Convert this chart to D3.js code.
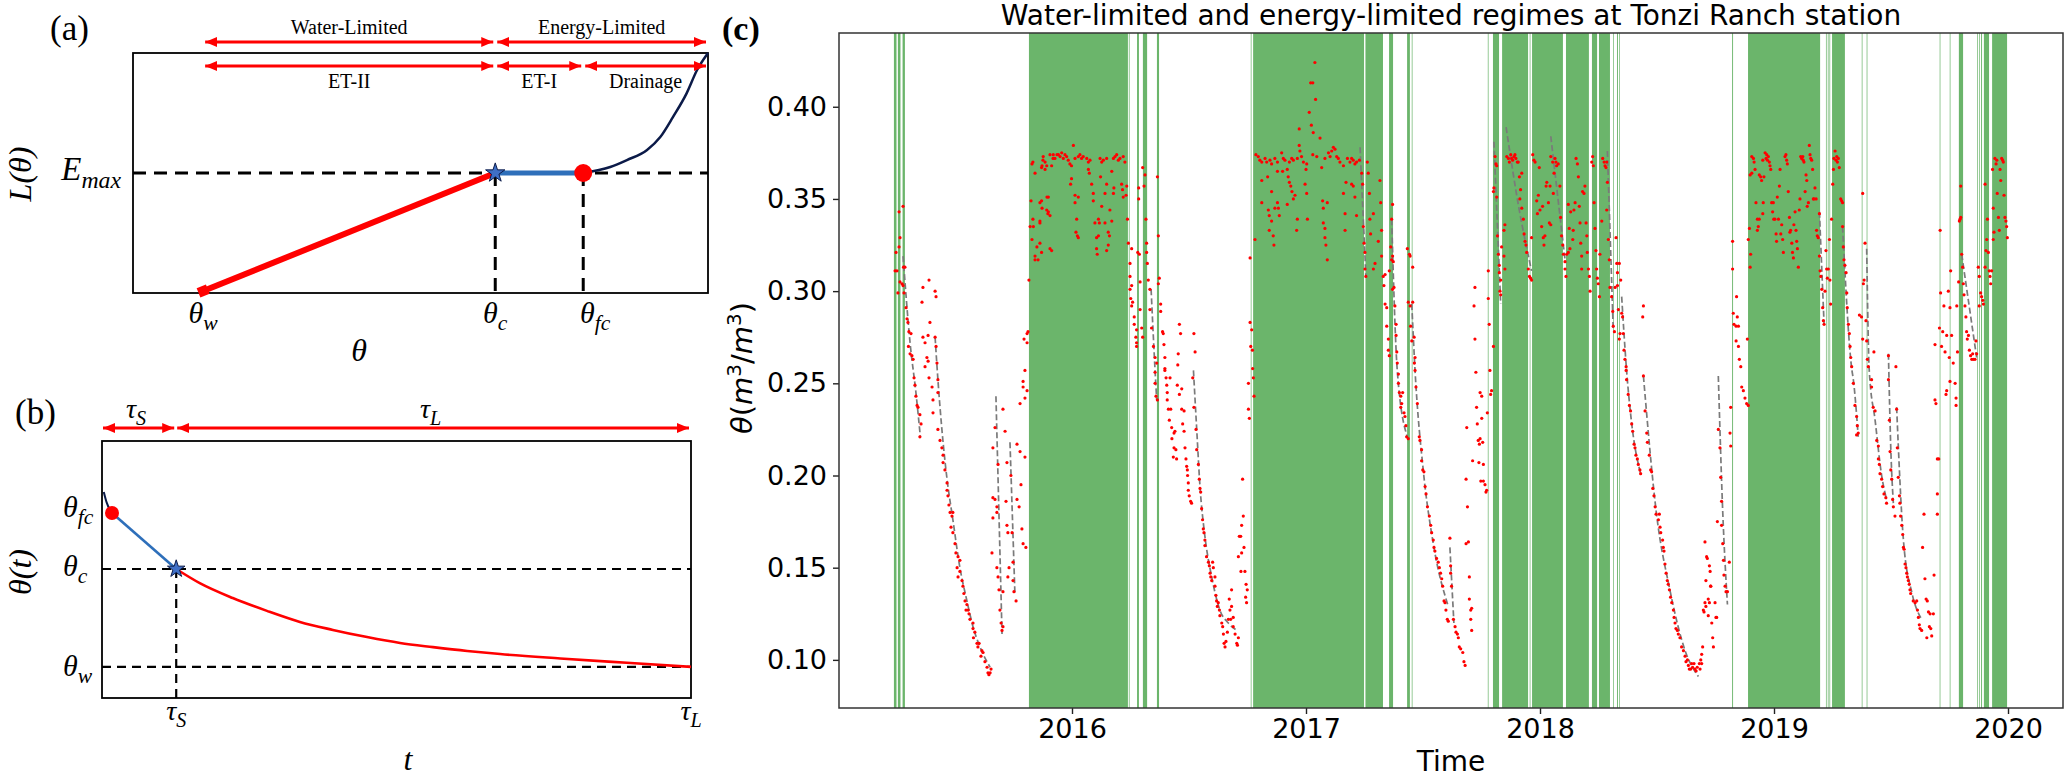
<!DOCTYPE html>
<html><head><meta charset="utf-8">
<script src="https://cdn.jsdelivr.net/npm/d3@7"></script>
<style>body{margin:0;background:#fff} svg{display:block}</style>
</head><body>
<svg id="fig" width="2067" height="780"></svg>
<script>
// ===================== DATA =====================
// Panel (c) axes
const yearTicks = [2016, 2017, 2018, 2019, 2020];
const thetaTicks = [0.10, 0.15, 0.20, 0.25, 0.30, 0.35, 0.40];

// Energy-limited days (decimal years, start-end)
const energyLimitedSpans = [
[2015.239,2015.250],[2015.256,2015.267],[2015.276,2015.286],
[2015.816,2016.239],[2016.243,2016.246],[2016.278,2016.286],[2016.303,2016.321],[2016.363,2016.372],
[2016.764,2016.767],[2016.774,2017.248],[2017.254,2017.329],[2017.355,2017.372],[2017.432,2017.444],[2017.452,2017.455],
[2017.777,2017.780],[2017.799,2017.825],[2017.838,2017.949],[2017.956,2017.959],[2017.966,2018.098],[2018.111,2018.209],
[2018.222,2018.244],[2018.252,2018.299],[2018.312,2018.315],[2018.329,2018.333],[2018.338,2018.341],
[2018.821,2018.825],[2018.889,2019.197],[2019.222,2019.225],[2019.230,2019.233],[2019.237,2019.240],[2019.248,2019.303],
[2019.375,2019.378],[2019.396,2019.399],[2019.708,2019.711],[2019.751,2019.754],[2019.790,2019.808],
[2019.868,2019.871],[2019.876,2019.879],[2019.885,2019.889],[2019.897,2019.919],[2019.932,2019.996]
];

// Observed soil moisture [decimal year, theta]
const obs2015 = [
[2015.244,0.311],[2015.252,0.311],[2015.248,0.321],[2015.261,0.324],[2015.265,0.329],[2015.261,0.343],[2015.278,0.346],[2015.256,0.299],[2015.265,0.305],[2015.274,0.304],[2015.278,0.303],[2015.280,0.313],[2015.286,0.313],[2015.282,0.299],[2015.291,0.291],[2015.295,0.285],[2015.299,0.283],[2015.303,0.278],[2015.312,0.277],[2015.301,0.270],[2015.308,0.266],[2015.316,0.265],[2015.321,0.263],[2015.325,0.253],[2015.333,0.243],[2015.329,0.249],[2015.338,0.238],[2015.342,0.237],[2015.350,0.233],[2015.355,0.228],[2015.350,0.221],
[2015.359,0.294],[2015.363,0.302],[2015.389,0.306],[2015.415,0.300],[2015.419,0.297],[2015.363,0.275],[2015.372,0.272],[2015.385,0.276],[2015.393,0.283],[2015.380,0.264],[2015.385,0.262],[2015.372,0.259],[2015.389,0.253],[2015.402,0.248],[2015.415,0.275],[2015.419,0.270],[2015.423,0.261],[2015.427,0.252],[2015.427,0.245],[2015.406,0.241],[2015.406,0.234],
[2015.427,0.225],[2015.436,0.219],[2015.444,0.215],[2015.449,0.211],[2015.449,0.207],[2015.457,0.203],[2015.466,0.196],[2015.466,0.192],[2015.470,0.189],[2015.474,0.184],[2015.479,0.180],[2015.487,0.178],[2015.491,0.180],[2015.483,0.172],[2015.491,0.169],[2015.500,0.163],[2015.504,0.158],[2015.513,0.156],[2015.521,0.154],[2015.509,0.150],[2015.521,0.148],[2015.513,0.145],[2015.530,0.143],[2015.534,0.140],[2015.538,0.136],[2015.543,0.132],[2015.551,0.130],[2015.547,0.127],[2015.556,0.127],[2015.560,0.125],[2015.564,0.122],[2015.577,0.120],[2015.577,0.117],[2015.585,0.115],[2015.579,0.112],[2015.594,0.109],[2015.598,0.107],[2015.603,0.109],[2015.615,0.105],[2015.620,0.104],[2015.611,0.102],[2015.628,0.099],[2015.637,0.096],[2015.641,0.093],[2015.650,0.093],[2015.654,0.095],[2015.645,0.092]
];
const obs2015Late = [
[2015.658,0.158],[2015.662,0.215],[2015.671,0.226],[2015.662,0.188],[2015.671,0.187],[2015.679,0.183],[2015.662,0.177],[2015.679,0.180],[2015.684,0.206],[2015.679,0.150],[2015.688,0.138],[2015.692,0.127],[2015.697,0.120],[2015.705,0.118],[2015.701,0.116],[2015.705,0.137],[2015.684,0.145],
[2015.705,0.236],[2015.714,0.224],[2015.722,0.207],[2015.718,0.186],[2015.722,0.173],[2015.726,0.169],[2015.731,0.150],[2015.726,0.145],[2015.739,0.200],[2015.744,0.169],[2015.748,0.153],[2015.748,0.143],[2015.752,0.137],[2015.761,0.132],[2015.765,0.217],[2015.765,0.187],[2015.774,0.183],[2015.778,0.213],[2015.782,0.195],[2015.786,0.171],[2015.791,0.163],[2015.803,0.161],[2015.799,0.210],[2015.778,0.239],[2015.791,0.251],[2015.791,0.248],[2015.799,0.257],[2015.795,0.274],[2015.808,0.272],[2015.812,0.278],[2015.808,0.277],[2015.816,0.306],[2015.799,0.242],[2015.808,0.246]
];
const obsWet2016 = [
[2015.829,0.369],[2015.833,0.370],[2015.842,0.364],[2015.872,0.368],[2015.876,0.371],[2015.885,0.366],[2015.906,0.374],[2015.919,0.372],[2015.936,0.374],[2015.825,0.349],[2015.833,0.339],[2015.835,0.335],[2015.829,0.328],[2015.842,0.319],[2015.850,0.324],[2015.863,0.348],[2015.872,0.345],[2015.893,0.351],[2015.897,0.342],[2015.906,0.323],[2015.855,0.317],[2015.821,0.335],[2015.863,0.338],[2015.842,0.317],
[2015.877,0.373],[2015.885,0.370],[2015.892,0.368],[2015.920,0.374],[2015.927,0.372],[2015.942,0.374],[2015.949,0.373],[2015.956,0.375],[2015.963,0.372],[2015.970,0.374],[2015.977,0.373],[2015.984,0.371],[2015.991,0.369],[2015.998,0.368],[2016.006,0.379],[2016.013,0.372],[2016.027,0.373],[2016.034,0.374],[2016.041,0.372],[2016.048,0.373],[2016.063,0.372],[2016.070,0.370],[2016.077,0.371],[2016.120,0.372],[2016.127,0.370],[2016.134,0.371],[2016.148,0.372],[2016.177,0.372],[2016.184,0.373],[2016.191,0.374],[2016.198,0.371],[2016.205,0.372],[2016.219,0.373],[2016.226,0.370],
[2015.870,0.367],[2015.913,0.368],[2015.998,0.361],[2015.994,0.358],[2015.899,0.351],[2015.870,0.349],[2015.892,0.344],[2015.899,0.343],[2015.906,0.341],[2015.863,0.337],[2016.013,0.352],[2016.013,0.348],[2016.027,0.351],[2016.020,0.339],[2016.017,0.332],[2016.023,0.330],[2016.027,0.329],[2015.913,0.322],[2015.863,0.326],[2015.870,0.321],[2016.070,0.366],[2016.074,0.364],[2016.084,0.358],[2016.091,0.353],[2016.091,0.349],[2016.098,0.337],[2016.113,0.339],[2016.117,0.337],[2016.105,0.329],[2016.113,0.330],[2016.105,0.323],[2016.108,0.320],[2016.122,0.362],[2016.127,0.346],[2016.141,0.337],[2016.141,0.353],[2016.148,0.358],[2016.155,0.332],[2016.160,0.330],[2016.155,0.325],[2016.148,0.322],[2016.162,0.344],[2016.170,0.365],[2016.170,0.338],[2016.177,0.353],[2016.179,0.356],[2016.212,0.358],[2016.216,0.355],[2016.219,0.351],[2016.231,0.352],[2016.234,0.357],[2016.237,0.339]
];
const obsDry2016 = [
[2016.241,0.326],[2016.255,0.323],[2016.248,0.315],[2016.248,0.308],[2016.255,0.303],[2016.248,0.301],[2016.251,0.296],[2016.259,0.294],[2016.255,0.292],[2016.266,0.286],[2016.266,0.282],[2016.276,0.279],[2016.273,0.275],[2016.276,0.272],[2016.276,0.270],[2016.281,0.321],[2016.288,0.320],[2016.291,0.305],[2016.302,0.367],[2016.312,0.363],[2016.308,0.357],[2016.285,0.356],[2016.285,0.350],[2016.316,0.339],[2016.319,0.326],[2016.319,0.321],[2016.322,0.315],[2016.326,0.306],[2016.298,0.280],[2016.302,0.275],[2016.291,0.290],[2016.333,0.290],[2016.333,0.301],[2016.340,0.280],[2016.348,0.270],[2016.355,0.264],[2016.362,0.261],[2016.365,0.362],[2016.369,0.330],[2016.369,0.304],[2016.373,0.307],[2016.379,0.293],[2016.379,0.289],[2016.387,0.278],[2016.390,0.277],[2016.393,0.271],[2016.397,0.264],[2016.397,0.258],[2016.459,0.282],[2016.464,0.277],[2016.521,0.277],[2016.526,0.267],[2016.454,0.266],[2016.452,0.260],
[2016.355,0.256],[2016.355,0.250],[2016.359,0.243],[2016.365,0.241],[2016.397,0.257],[2016.402,0.253],[2016.419,0.253],[2016.405,0.249],[2016.407,0.245],[2016.407,0.241],[2016.412,0.236],[2016.422,0.236],[2016.416,0.230],[2016.426,0.226],[2016.440,0.224],[2016.436,0.223],[2016.427,0.220],[2016.436,0.215],[2016.444,0.214],[2016.433,0.210],[2016.447,0.209],[2016.450,0.249],[2016.459,0.244],[2016.469,0.247],[2016.469,0.236],[2016.479,0.235],[2016.473,0.228],[2016.479,0.224],[2016.483,0.215],[2016.487,0.209],[2016.490,0.205],[2016.493,0.203],[2016.494,0.200],[2016.497,0.196],[2016.497,0.192],[2016.501,0.189],[2016.507,0.186],[2016.511,0.185],
[2016.516,0.253],[2016.521,0.237],[2016.530,0.225],[2016.533,0.214],[2016.540,0.206],[2016.544,0.198],[2016.547,0.193],[2016.550,0.191],[2016.554,0.182],[2016.558,0.176],[2016.561,0.171],[2016.564,0.169],[2016.568,0.165],[2016.568,0.162],[2016.575,0.156],[2016.583,0.153],[2016.587,0.151],[2016.601,0.153],[2016.604,0.150],[2016.590,0.147],[2016.593,0.145],[2016.597,0.143],[2016.611,0.145],[2016.611,0.140],[2016.615,0.135],[2016.618,0.132],[2016.625,0.131],[2016.621,0.129],[2016.630,0.127],[2016.632,0.124],[2016.640,0.120],[2016.644,0.118],[2016.647,0.114],[2016.650,0.109],[2016.654,0.107],[2016.658,0.110],[2016.664,0.115],[2016.672,0.133],[2016.675,0.127],[2016.682,0.129],[2016.668,0.122],[2016.678,0.122],[2016.689,0.123],[2016.682,0.138],[2016.689,0.118],[2016.697,0.114],[2016.704,0.109],[2016.711,0.112],[2016.707,0.108],
[2016.711,0.156],[2016.715,0.167],[2016.721,0.167],[2016.725,0.158],[2016.725,0.173],[2016.732,0.178],[2016.735,0.161],[2016.722,0.148],[2016.739,0.148],[2016.744,0.141],[2016.749,0.138],[2016.742,0.134],[2016.746,0.131],[2016.729,0.198],[2016.754,0.250],[2016.754,0.236],[2016.758,0.231],[2016.775,0.253],[2016.778,0.243],[2016.761,0.318],[2016.761,0.283],[2016.768,0.279],[2016.764,0.270],[2016.771,0.268],[2016.772,0.258],[2016.782,0.328]
];
const obsWet2017 = [
[2016.786,0.374],[2016.796,0.373],[2016.803,0.371],[2016.811,0.370],[2016.825,0.372],[2016.832,0.370],[2016.846,0.371],[2016.853,0.369],[2016.867,0.372],[2016.878,0.370],[2016.896,0.375],[2016.903,0.372],[2016.910,0.371],[2016.929,0.370],[2016.939,0.372],[2016.946,0.371],[2016.963,0.372],[2016.971,0.379],[2016.974,0.376],[2016.981,0.373],[2016.989,0.370],[2017.003,0.369],[2017.014,0.397],[2017.020,0.413],[2017.029,0.413],[2017.038,0.424],[2017.041,0.404],[2017.023,0.390],[2017.031,0.386],[2016.971,0.388],[2017.029,0.374],[2017.046,0.373],[2017.060,0.383],[2017.081,0.372],[2017.096,0.375],[2017.103,0.373],[2017.110,0.376],[2017.117,0.378],[2017.124,0.377],[2017.131,0.373],[2017.138,0.372],[2017.145,0.370],[2017.160,0.368],[2017.177,0.372],[2017.188,0.370],[2017.195,0.372],[2017.202,0.371],[2017.209,0.369],[2017.216,0.370],[2017.228,0.371],
[2016.811,0.360],[2016.836,0.362],[2016.811,0.348],[2016.853,0.354],[2016.839,0.344],[2016.843,0.341],[2016.853,0.338],[2016.843,0.333],[2016.860,0.330],[2016.863,0.325],[2016.867,0.345],[2016.878,0.348],[2016.882,0.345],[2016.886,0.341],[2016.878,0.365],[2016.900,0.365],[2016.920,0.366],[2016.924,0.362],[2016.929,0.359],[2016.935,0.357],[2016.940,0.354],[2016.946,0.350],[2016.953,0.352],[2016.920,0.347],[2016.963,0.339],[2016.960,0.333],[2016.996,0.358],[2017.003,0.353],[2017.000,0.366],[2017.006,0.339],[2017.067,0.367],[2017.071,0.349],[2017.074,0.345],[2017.074,0.337],[2017.081,0.334],[2017.081,0.329],[2017.085,0.325],[2017.091,0.317],[2017.091,0.348],[2017.160,0.353],[2017.167,0.342],[2017.171,0.359],[2017.195,0.358],[2017.202,0.357],[2017.209,0.351],[2017.167,0.333],[2017.216,0.341],[2017.238,0.364],[2017.242,0.358],[2017.245,0.335],[2017.248,0.326],[2017.252,0.321],[2017.252,0.312],[2017.256,0.308],[2017.262,0.370],[2017.266,0.364],[2017.271,0.353],[2017.273,0.339],[2017.276,0.331],[2017.288,0.342],[2017.295,0.315],[2017.288,0.312],[2017.309,0.327]
];
const obsDry2017 = [
[2017.316,0.360],[2017.319,0.348],[2017.323,0.333],[2017.323,0.319],[2017.330,0.308],[2017.338,0.309],[2017.333,0.303],[2017.338,0.293],[2017.345,0.291],[2017.345,0.281],[2017.352,0.274],[2017.352,0.268],[2017.356,0.265],[2017.356,0.311],[2017.362,0.324],[2017.366,0.339],[2017.370,0.347],[2017.366,0.317],[2017.370,0.319],[2017.373,0.316],[2017.370,0.301],[2017.376,0.302],[2017.380,0.292],[2017.385,0.282],[2017.385,0.276],[2017.388,0.267],[2017.390,0.261],[2017.433,0.323],[2017.442,0.320],[2017.445,0.319],[2017.437,0.294],[2017.445,0.292],[2017.456,0.313],[2017.456,0.294],[2017.447,0.281],[2017.452,0.273],[2017.462,0.275],[2017.466,0.264],[2017.463,0.261],
[2017.395,0.255],[2017.395,0.250],[2017.399,0.245],[2017.405,0.243],[2017.413,0.245],[2017.409,0.239],[2017.405,0.237],[2017.419,0.234],[2017.423,0.232],[2017.427,0.227],[2017.430,0.221],[2017.437,0.220],
[2017.466,0.257],[2017.470,0.248],[2017.476,0.239],[2017.484,0.221],[2017.487,0.219],[2017.494,0.214],[2017.494,0.208],[2017.499,0.203],[2017.504,0.202],[2017.509,0.194],[2017.513,0.190],[2017.519,0.183],[2017.527,0.178],[2017.533,0.173],[2017.537,0.169],[2017.544,0.165],[2017.547,0.161],[2017.551,0.159],[2017.558,0.155],[2017.565,0.153],[2017.570,0.150],[2017.575,0.147],[2017.580,0.144],[2017.584,0.140],[2017.590,0.132],[2017.594,0.131],[2017.598,0.127],[2017.604,0.122],[2017.608,0.121],[2017.615,0.166],[2017.618,0.151],[2017.618,0.147],[2017.622,0.140],[2017.630,0.122],[2017.637,0.118],[2017.641,0.115],[2017.647,0.114],[2017.651,0.112],[2017.655,0.107],[2017.661,0.106],[2017.670,0.104],[2017.675,0.099],[2017.680,0.097],
[2017.684,0.163],[2017.690,0.183],[2017.684,0.198],[2017.687,0.226],[2017.694,0.164],[2017.698,0.145],[2017.698,0.133],[2017.704,0.127],[2017.708,0.128],[2017.704,0.122],[2017.708,0.116],[2017.712,0.208],[2017.726,0.256],[2017.729,0.237],[2017.732,0.228],[2017.736,0.219],[2017.744,0.220],[2017.741,0.217],[2017.755,0.218],[2017.751,0.231],[2017.739,0.207],[2017.758,0.206],[2017.744,0.245],[2017.751,0.243],[2017.747,0.197],[2017.758,0.197],[2017.765,0.195],[2017.769,0.191],[2017.772,0.192],[2017.775,0.234],[2017.786,0.257],[2017.793,0.246],[2017.789,0.244],
[2017.722,0.302],[2017.718,0.292],[2017.722,0.274],[2017.779,0.311],[2017.779,0.296],[2017.783,0.282],[2017.801,0.270]
];
const obsWet2018 = [
[2017.808,0.373],[2017.812,0.369],[2017.815,0.368],[2017.803,0.356],[2017.801,0.354],[2017.815,0.351],[2017.818,0.330],[2017.822,0.320],[2017.826,0.314],[2017.826,0.310],[2017.832,0.306],[2017.829,0.300],[2017.832,0.298],[2017.836,0.324],[2017.846,0.333],[2017.850,0.336],[2017.846,0.319],[2017.850,0.312],[2017.858,0.373],[2017.865,0.372],[2017.869,0.370],[2017.875,0.374],[2017.879,0.372],[2017.883,0.371],[2017.889,0.373],[2017.893,0.374],[2017.897,0.372],[2017.903,0.370],[2017.907,0.370],[2017.912,0.362],[2017.917,0.355],[2017.922,0.364],[2017.914,0.350],[2017.922,0.345],[2017.929,0.339],[2017.932,0.331],[2017.936,0.327],[2017.940,0.325],[2017.943,0.321],[2017.950,0.312],[2017.955,0.308],[2017.960,0.307],[2017.964,0.306],[2017.964,0.329],[2017.969,0.374],[2017.974,0.371],[2017.979,0.370],[2017.986,0.349],[2017.989,0.342],[2017.993,0.352],[2017.997,0.367],[2018.000,0.344],[2018.007,0.335],[2018.011,0.346],[2018.014,0.329],[2018.017,0.325],[2018.021,0.330],[2018.026,0.357],[2018.029,0.359],[2018.036,0.348],[2018.040,0.337],[2018.046,0.336],[2018.043,0.357],[2018.046,0.373],[2018.054,0.370],[2018.057,0.353],[2018.060,0.364],[2018.064,0.372],[2018.068,0.370],[2018.071,0.368],[2018.078,0.369],[2018.085,0.357],[2018.088,0.340],[2018.092,0.330],[2018.097,0.325],[2018.100,0.320],[2018.107,0.316],[2018.107,0.312],[2018.111,0.308],[2018.114,0.320],[2018.121,0.321],[2018.128,0.323],[2018.121,0.347],[2018.131,0.343],[2018.125,0.334],[2018.140,0.328],[2018.142,0.333],[2018.145,0.344],[2018.150,0.348],[2018.154,0.372],[2018.160,0.369],[2018.164,0.362],[2018.168,0.346],[2018.171,0.337],[2018.174,0.326],[2018.178,0.319],[2018.178,0.312],[2018.182,0.354],[2018.188,0.353],[2018.192,0.357],[2018.197,0.337],[2018.200,0.330],[2018.202,0.321],[2018.207,0.312],[2018.211,0.308],[2018.214,0.300],[2018.221,0.370],[2018.225,0.373],[2018.228,0.368],[2018.231,0.348],[2018.235,0.334],[2018.239,0.322],[2018.242,0.312],[2018.245,0.307],[2018.249,0.304],[2018.254,0.297],[2018.256,0.320],[2018.264,0.338],[2018.268,0.372],[2018.274,0.370],[2018.278,0.368],[2018.282,0.367],[2018.285,0.370],[2018.288,0.359],[2018.285,0.344],[2018.292,0.328],[2018.296,0.317],[2018.299,0.302],[2018.306,0.297],[2018.311,0.289],[2018.313,0.281],[2018.318,0.278]
];
const obsDry2018 = [
[2018.325,0.329],[2018.328,0.315],[2018.331,0.310],[2018.339,0.315],[2018.345,0.306],[2018.335,0.290],[2018.342,0.277],[2018.339,0.274],[2018.349,0.288],[2018.353,0.286],[2018.356,0.277],[2018.359,0.268],[2018.363,0.263],[2018.368,0.259],[2018.321,0.302],[2018.331,0.303],[2018.442,0.292],[2018.439,0.286],
[2018.368,0.257],[2018.370,0.252],[2018.377,0.244],[2018.382,0.238],[2018.387,0.235],[2018.392,0.228],[2018.396,0.224],[2018.402,0.217],[2018.406,0.215],[2018.410,0.211],[2018.416,0.209],[2018.420,0.206],[2018.427,0.203],[2018.430,0.201],
[2018.442,0.254],[2018.449,0.235],[2018.456,0.223],[2018.459,0.218],[2018.467,0.211],[2018.473,0.203],[2018.477,0.202],[2018.482,0.193],[2018.487,0.189],[2018.492,0.183],[2018.496,0.179],[2018.510,0.179],[2018.506,0.176],[2018.513,0.172],[2018.516,0.169],[2018.524,0.165],[2018.527,0.161],[2018.530,0.159],[2018.534,0.152],[2018.539,0.147],[2018.544,0.143],[2018.548,0.141],[2018.553,0.138],[2018.558,0.134],[2018.563,0.131],[2018.570,0.127],[2018.573,0.123],[2018.577,0.120],[2018.581,0.117],[2018.587,0.116],[2018.591,0.114],[2018.598,0.112],[2018.605,0.107],[2018.613,0.105],[2018.620,0.102],[2018.624,0.099],[2018.630,0.100],[2018.634,0.097],[2018.638,0.095],[2018.644,0.095],[2018.648,0.098],[2018.652,0.096],[2018.658,0.098],[2018.662,0.095],[2018.667,0.094],[2018.672,0.096],[2018.681,0.098],[2018.687,0.100],[2018.691,0.103],[2018.695,0.107],
[2018.698,0.127],[2018.705,0.131],[2018.709,0.129],[2018.701,0.126],[2018.719,0.124],[2018.724,0.131],[2018.734,0.120],[2018.738,0.112],[2018.741,0.107],[2018.748,0.131],[2018.755,0.123],[2018.705,0.164],[2018.712,0.156],[2018.709,0.143],[2018.719,0.133],[2018.724,0.151],[2018.727,0.148],[2018.730,0.140],[2018.758,0.175],
[2018.762,0.225],[2018.769,0.215],[2018.772,0.199],[2018.776,0.186],[2018.776,0.173],[2018.781,0.163],[2018.784,0.154],[2018.786,0.146],[2018.791,0.140],[2018.795,0.137],[2018.801,0.137],[2018.809,0.153],[2018.815,0.237],[2018.812,0.223],[2018.815,0.216],[2018.715,0.155],[2018.729,0.140],[2018.752,0.123],[2018.684,0.095],[2018.691,0.098],
[2018.862,0.248],[2018.869,0.246],[2018.876,0.242],[2018.883,0.239],[2018.890,0.238],
[2018.823,0.327],[2018.823,0.312],[2018.826,0.288],[2018.829,0.282],[2018.838,0.281],[2018.848,0.281],[2018.840,0.297],[2018.843,0.286],[2018.838,0.273],[2018.848,0.270],[2018.852,0.263],[2018.858,0.259],[2018.886,0.274]
];
const obsWet2019 = [
[2018.890,0.328],[2018.895,0.334],[2018.898,0.313],[2018.900,0.320],[2018.898,0.363],[2018.905,0.373],[2018.912,0.372],[2018.915,0.370],[2018.919,0.366],[2018.905,0.364],[2018.923,0.348],[2018.929,0.339],[2018.933,0.335],[2018.929,0.333],[2018.937,0.339],[2018.937,0.363],[2018.943,0.362],[2018.947,0.360],[2018.952,0.342],[2018.954,0.348],[2018.952,0.371],[2018.957,0.362],[2018.962,0.375],[2018.966,0.372],[2018.969,0.374],[2018.972,0.371],[2018.976,0.373],[2018.980,0.370],[2018.983,0.368],[2018.986,0.366],[2018.990,0.348],[2018.994,0.343],[2018.997,0.348],[2018.999,0.339],[2019.004,0.339],[2019.009,0.331],[2019.011,0.327],[2019.014,0.351],[2019.019,0.339],[2019.023,0.357],[2019.026,0.366],[2019.029,0.331],[2019.033,0.336],[2019.037,0.328],[2019.040,0.321],[2019.047,0.373],[2019.051,0.374],[2019.054,0.371],[2019.057,0.369],[2019.061,0.354],[2019.066,0.340],[2019.068,0.332],[2019.071,0.333],[2019.076,0.326],[2019.079,0.321],[2019.083,0.318],[2019.085,0.336],[2019.090,0.343],[2019.094,0.333],[2019.097,0.327],[2019.100,0.323],[2019.104,0.313],[2019.108,0.344],[2019.111,0.350],[2019.114,0.373],[2019.118,0.372],[2019.123,0.373],[2019.125,0.371],[2019.128,0.370],[2019.133,0.354],[2019.137,0.363],[2019.140,0.360],[2019.142,0.346],[2019.147,0.348],[2019.151,0.379],[2019.154,0.374],[2019.157,0.372],[2019.161,0.371],[2019.165,0.366],[2019.168,0.350],[2019.171,0.350],[2019.175,0.356],[2019.180,0.350],[2019.182,0.333],[2019.185,0.330],[2019.189,0.329],[2019.194,0.342],[2019.194,0.319],[2019.197,0.311],[2019.200,0.308],[2019.204,0.301],[2019.208,0.291],[2019.211,0.284],[2019.214,0.282],[2019.218,0.300],[2019.222,0.322],[2019.225,0.312],[2019.228,0.307],[2019.232,0.312],[2019.237,0.328],[2019.239,0.306],[2019.242,0.293],[2019.246,0.339],[2019.251,0.358],[2019.254,0.366],[2019.256,0.372],[2019.261,0.376],[2019.265,0.371],[2019.268,0.373],[2019.271,0.370],[2019.275,0.372],[2019.279,0.367],[2019.285,0.350],[2019.289,0.349],[2019.293,0.348],[2019.293,0.335],[2019.296,0.324],[2019.299,0.317],[2019.303,0.314],[2019.308,0.310],[2019.311,0.299],[2019.313,0.291],[2019.318,0.282],[2019.322,0.277],[2019.325,0.270],[2019.328,0.264],[2019.332,0.259]
];
const obsDry2019 = [
[2019.365,0.287],[2019.374,0.286],[2019.379,0.353],[2019.379,0.274],[2019.382,0.304],[2019.385,0.306],[2019.389,0.326],[2019.393,0.284],[2019.396,0.273],[2019.399,0.263],[2019.403,0.259],[2019.427,0.267],[2019.489,0.265],[2019.521,0.259],
[2019.339,0.250],[2019.346,0.238],[2019.353,0.232],[2019.356,0.227],[2019.360,0.223],[2019.353,0.222],
[2019.417,0.252],[2019.417,0.248],[2019.424,0.237],[2019.432,0.235],[2019.439,0.219],[2019.446,0.216],[2019.446,0.209],[2019.450,0.206],[2019.453,0.201],[2019.460,0.198],[2019.464,0.194],[2019.470,0.190],[2019.478,0.188],[2019.481,0.185],
[2019.489,0.252],[2019.493,0.230],[2019.496,0.213],[2019.499,0.203],[2019.503,0.198],[2019.507,0.187],[2019.510,0.183],[2019.517,0.178],
[2019.524,0.236],[2019.527,0.215],[2019.531,0.199],[2019.536,0.189],[2019.538,0.185],[2019.541,0.178],[2019.546,0.173],[2019.550,0.168],[2019.553,0.161],[2019.556,0.160],[2019.560,0.152],[2019.564,0.150],[2019.567,0.147],[2019.570,0.145],[2019.574,0.143],[2019.578,0.141],[2019.581,0.138],[2019.584,0.136],[2019.595,0.132],[2019.603,0.131],[2019.610,0.132],[2019.613,0.127],[2019.617,0.123],[2019.621,0.119],[2019.624,0.117],[2019.631,0.116],
[2019.635,0.161],[2019.641,0.179],[2019.645,0.144],[2019.650,0.133],[2019.655,0.132],[2019.660,0.126],[2019.664,0.118],[2019.670,0.117],[2019.674,0.113],[2019.653,0.112],[2019.667,0.125],[2019.681,0.125],[2019.684,0.146],[2019.688,0.241],[2019.692,0.239],[2019.698,0.209],[2019.704,0.209],[2019.698,0.190],[2019.698,0.179],[2019.738,0.246],[2019.735,0.244],[2019.752,0.251],[2019.774,0.250],[2019.778,0.242],[2019.778,0.238]
];
const obsLate2019 = [
[2019.688,0.271],[2019.707,0.280],[2019.710,0.333],[2019.712,0.299],[2019.716,0.270],[2019.721,0.278],[2019.726,0.292],[2019.731,0.267],[2019.738,0.276],[2019.745,0.300],[2019.749,0.264],[2019.752,0.291],[2019.755,0.311],[2019.759,0.276],[2019.766,0.261],[2019.781,0.292],[2019.784,0.267],[2019.789,0.305],[2019.792,0.338],[2019.795,0.339],[2019.798,0.357],[2019.798,0.340],[2019.802,0.320],[2019.806,0.313],[2019.809,0.304],[2019.812,0.298],[2019.816,0.292],[2019.820,0.286],[2019.823,0.278],[2019.826,0.274],[2019.831,0.276],[2019.835,0.268],[2019.840,0.265],[2019.845,0.263],[2019.849,0.266],[2019.852,0.263],[2019.859,0.263],[2019.863,0.273],[2019.866,0.266],[2019.873,0.313],[2019.877,0.308],[2019.877,0.292],[2019.883,0.299],[2019.887,0.297],[2019.892,0.295],[2019.895,0.293],[2019.902,0.358],[2019.902,0.313],[2019.906,0.322],[2019.909,0.328],[2019.912,0.339],[2019.916,0.321],[2019.920,0.311],[2019.923,0.308],[2019.926,0.304],[2019.930,0.311],[2019.934,0.366],[2019.937,0.345],[2019.937,0.328],[2019.940,0.332],[2019.944,0.372],[2019.949,0.369],[2019.952,0.371],[2019.954,0.353],[2019.959,0.340],[2019.963,0.333],[2019.966,0.366],[2019.969,0.360],[2019.973,0.372],[2019.977,0.371],[2019.980,0.370],[2019.983,0.352],[2019.987,0.340],[2019.991,0.338],[2019.994,0.335],[2019.997,0.329]
];

// Fitted drydown curves (dashed)
const fitSegments = [
[[2015.278,0.319],[2015.308,0.272],[2015.333,0.245],[2015.352,0.221]],
[[2015.415,0.275],[2015.427,0.252],[2015.444,0.225],[2015.466,0.198],[2015.491,0.176],[2015.521,0.150],[2015.551,0.132],[2015.577,0.118],[2015.607,0.107],[2015.650,0.096]],
[[2015.675,0.243],[2015.701,0.114]],
[[2015.735,0.218],[2015.756,0.136]],
[[2016.338,0.301],[2016.355,0.257],[2016.362,0.241]],
[[2016.519,0.257],[2016.533,0.225],[2016.547,0.194],[2016.568,0.167],[2016.597,0.145],[2016.632,0.127],[2016.668,0.120],[2016.704,0.116]],
[[2017.231,0.378],[2017.256,0.308]],
[[2017.366,0.339],[2017.390,0.257],[2017.433,0.221]],
[[2017.452,0.293],[2017.466,0.257],[2017.501,0.203],[2017.544,0.163],[2017.608,0.129]],
[[2017.615,0.161],[2017.632,0.120]],
[[2017.803,0.381],[2017.832,0.293]],
[[2017.855,0.389],[2017.910,0.345],[2017.964,0.311]],
[[2018.046,0.384],[2018.107,0.317]],
[[2018.288,0.376],[2018.313,0.279]],
[[2018.349,0.297],[2018.370,0.257],[2018.392,0.228],[2018.430,0.201]],
[[2018.442,0.254],[2018.498,0.179],[2018.555,0.138],[2018.620,0.105],[2018.677,0.091]],
[[2018.762,0.254],[2018.781,0.180],[2018.801,0.130]],
[[2019.194,0.343],[2019.214,0.282]],
[[2019.293,0.335],[2019.332,0.258],[2019.339,0.252],[2019.360,0.221]],
[[2019.396,0.323],[2019.407,0.257],[2019.432,0.230],[2019.460,0.200],[2019.481,0.187]],
[[2019.489,0.266],[2019.499,0.215],[2019.510,0.185]],
[[2019.524,0.237],[2019.553,0.165],[2019.590,0.136],[2019.631,0.122]],
[[2019.802,0.320],[2019.866,0.264]]
];

// Panel (a) schematic: loss function L(theta), normalised units
const thetaMarksA = [0.122, 0.630, 0.783];          // theta_w, theta_c, theta_fc
const emaxLevel = 0.5;
const lossStage2 = [[0.122,0.008],[0.630,0.5]];
const lossStage1 = [[0.630,0.5],[0.783,0.5]];
const lossDrainage = [[0.783,0.5],[0.830,0.525],[0.859,0.554],[0.894,0.596],[0.917,0.650],[0.939,0.733],[0.963,0.833],[0.981,0.929],[1.0,1.0]];
const regimeArrows = [["Water-Limited",0.122,0.630],["Energy-Limited",0.630,1.0]];
const stageArrows = [["ET-II",0.122,0.630],["ET-I",0.630,0.783],["Drainage",0.783,1.0]];

// Panel (b) schematic: theta(t), normalised units
const levelsB = [0.720, 0.502, 0.121];              // theta_fc, theta_c, theta_w
const tauS = 0.126;
const decayDrainage = [[0.003,0.802],[0.008,0.760],[0.017,0.720]];
const decayStage1 = [[0.017,0.720],[0.126,0.502]];
const decayStage2 = [[0.126,0.502],[0.166,0.447],[0.222,0.389],[0.280,0.339],[0.336,0.296],[0.392,0.265],[0.450,0.237],[0.506,0.214],[0.562,0.198],[0.620,0.183],[0.676,0.171],[0.778,0.154],[0.891,0.137],[1.0,0.121]];
const timeArrows = [["S",0,0.126],["L",0.126,1.0]];

// ===================== DRAWING =====================
const svg = d3.select("#fig");
const RED = "#ff0000", BLUE = "#2e6fba", NAVY = "#0b1a48", STARFILL = "#3f6fc6";
const SERIF = "'Liberation Serif','Times New Roman',serif";
const SANS = "'DejaVu Sans',sans-serif";

const defs = svg.append("defs");
defs.append("marker").attr("id","arr").attr("viewBox","0 0 12 10").attr("refX",12).attr("refY",5)
  .attr("markerWidth",12).attr("markerHeight",10).attr("markerUnits","userSpaceOnUse")
  .attr("orient","auto-start-reverse")
  .append("path").attr("d","M0,0 L12,5 L0,10 z").attr("fill",RED);

function mathText(g, x, y, base, sub, fs, anchor) {
  const t = g.append("text").attr("x", x).attr("y", y).attr("text-anchor", anchor || "middle")
    .attr("font-family", SERIF).attr("font-size", fs).attr("font-style", "italic");
  t.append("tspan").text(base);
  if (sub) t.append("tspan").attr("font-size", fs * 0.72).attr("dy", fs * 0.24).text(sub);
  return t;
}
function arrow(g, x0, x1, y) {
  g.append("line").attr("x1", x0).attr("x2", x1).attr("y1", y).attr("y2", y)
    .attr("stroke", RED).attr("stroke-width", 3)
    .attr("marker-start","url(#arr)").attr("marker-end","url(#arr)");
}
const star = d3.symbol(d3.symbolStar);

// ---------- Panel (a) ----------
{
  const g = svg.append("g");
  const x = d3.scaleLinear().domain([0,1]).range([133,708]);
  const y = d3.scaleLinear().domain([0,1]).range([293,53]);
  const line = d3.line().x(d => x(d[0])).y(d => y(d[1]));
  const curve = d3.line().x(d => x(d[0])).y(d => y(d[1])).curve(d3.curveMonotoneX);

  g.append("line").attr("x1", x(0)).attr("x2", x(1)).attr("y1", y(emaxLevel)).attr("y2", y(emaxLevel))
    .attr("stroke","#000").attr("stroke-width",3).attr("stroke-dasharray","13,8");
  thetaMarksA.slice(1).forEach(t => {
    g.append("line").attr("x1", x(t)).attr("x2", x(t)).attr("y1", y(emaxLevel)).attr("y2", y(0))
      .attr("stroke","#000").attr("stroke-width",3).attr("stroke-dasharray","13,8");
  });
  g.append("rect").attr("x", x(0)).attr("y", y(1)).attr("width", x(1)-x(0)).attr("height", y(0)-y(1))
    .attr("fill","none").attr("stroke","#000").attr("stroke-width",1.8);

  g.append("path").attr("d", line(lossStage2)).attr("stroke", RED).attr("stroke-width", 6).attr("fill","none");
  const p0 = lossStage2[0], p1 = lossStage2[1];
  const ang = Math.atan2(y(p1[1]) - y(p0[1]), x(p1[0]) - x(p0[0])) * 180 / Math.PI;
  g.append("rect").attr("x",-5).attr("y",-5).attr("width",10).attr("height",10).attr("fill",RED)
    .attr("transform",`translate(${x(p0[0])},${y(p0[1])}) rotate(${ang})`);
  g.append("path").attr("d", line(lossStage1)).attr("stroke", BLUE).attr("stroke-width", 5).attr("fill","none");
  g.append("path").attr("d", curve(lossDrainage)).attr("stroke", NAVY).attr("stroke-width", 2.5).attr("fill","none");
  g.append("path").attr("d", star.size(115)()).attr("transform",`translate(${x(thetaMarksA[1])},${y(emaxLevel)})`)
    .attr("fill", STARFILL).attr("stroke", NAVY).attr("stroke-width",1);
  g.append("circle").attr("cx", x(thetaMarksA[2])).attr("cy", y(emaxLevel)).attr("r", 9).attr("fill", RED);

  regimeArrows.forEach(([lab,a,b]) => {
    arrow(g, x(a)+2, x(b)-2, 42);
    g.append("text").attr("x",(x(a)+x(b))/2).attr("y",34).attr("text-anchor","middle")
      .attr("font-family",SERIF).attr("font-size",20).text(lab);
  });
  stageArrows.forEach(([lab,a,b]) => {
    arrow(g, x(a)+2, x(b)-2, 66);
    g.append("text").attr("x",(x(a)+x(b))/2).attr("y",88).attr("text-anchor","middle")
      .attr("font-family",SERIF).attr("font-size",20).text(lab);
  });

  mathText(g, x(thetaMarksA[0]), 323, "θ", "w", 30);
  mathText(g, x(thetaMarksA[1]), 323, "θ", "c", 30);
  mathText(g, x(thetaMarksA[2]) + 12, 323, "θ", "fc", 30);
  mathText(g, 359, 361, "θ", null, 32);
  mathText(g, 121, 180, "E", "max", 33, "end");
  g.append("text").attr("transform","translate(31,174) rotate(-90)").attr("text-anchor","middle")
    .attr("font-family",SERIF).attr("font-size",32).attr("font-style","italic").text("L(θ)");
  g.append("text").attr("x",50).attr("y",40).attr("font-family",SERIF).attr("font-size",35).text("(a)");
}

// ---------- Panel (b) ----------
{
  const g = svg.append("g");
  const x = d3.scaleLinear().domain([0,1]).range([102,691]);
  const y = d3.scaleLinear().domain([0,1]).range([698,441]);
  const curve = d3.line().x(d => x(d[0])).y(d => y(d[1])).curve(d3.curveMonotoneX);
  const line = d3.line().x(d => x(d[0])).y(d => y(d[1]));

  [levelsB[1], levelsB[2]].forEach(v => {
    g.append("line").attr("x1", x(0)).attr("x2", x(1)).attr("y1", y(v)).attr("y2", y(v))
      .attr("stroke","#000").attr("stroke-width",2.2).attr("stroke-dasharray","9,6");
  });
  g.append("line").attr("x1", x(tauS)).attr("x2", x(tauS)).attr("y1", y(levelsB[1])).attr("y2", y(0))
    .attr("stroke","#000").attr("stroke-width",2.2).attr("stroke-dasharray","9,6");
  g.append("rect").attr("x", x(0)).attr("y", y(1)).attr("width", x(1)-x(0)).attr("height", y(0)-y(1))
    .attr("fill","none").attr("stroke","#000").attr("stroke-width",1.8);

  g.append("path").attr("d", curve(decayDrainage)).attr("stroke", NAVY).attr("stroke-width", 2).attr("fill","none");
  g.append("path").attr("d", line(decayStage1)).attr("stroke", BLUE).attr("stroke-width", 2.6).attr("fill","none");
  g.append("path").attr("d", curve(decayStage2)).attr("stroke", RED).attr("stroke-width", 2.6).attr("fill","none");
  g.append("circle").attr("cx", x(decayStage1[0][0])).attr("cy", y(decayStage1[0][1])).attr("r", 7).attr("fill", RED);
  g.append("path").attr("d", star.size(95)()).attr("transform",`translate(${x(tauS)},${y(levelsB[1])})`)
    .attr("fill", STARFILL).attr("stroke", NAVY).attr("stroke-width",1);

  timeArrows.forEach(([sub,a,b]) => {
    arrow(g, x(a)+1, x(b)-2, 428);
    mathText(g, (x(a)+x(b))/2 - 3, 418, "τ", sub, 28);
  });
  mathText(g, 63, 517, "θ", "fc", 30, "start");
  mathText(g, 63, 576, "θ", "c", 30, "start");
  mathText(g, 63, 676, "θ", "w", 30, "start");
  mathText(g, x(tauS), 720, "τ", "S", 28);
  mathText(g, x(1), 720, "τ", "L", 28);
  mathText(g, 408, 770, "t", null, 32);
  g.append("text").attr("transform","translate(31,572) rotate(-90)").attr("text-anchor","middle")
    .attr("font-family",SERIF).attr("font-size",32).attr("font-style","italic").text("θ(t)");
  g.append("text").attr("x",15).attr("y",424).attr("font-family",SERIF).attr("font-size",35).text("(b)");
}

// ---------- Panel (c) ----------
{
  const g = svg.append("g");
  const x = d3.scaleLinear().domain([2015.0043, 2020.235]).range([839, 2063]);
  const y = d3.scaleLinear().domain([0.0739, 0.44]).range([708, 33]);

  g.append("g").selectAll("rect").data(energyLimitedSpans).join("rect")
    .attr("x", d => x(d[0])).attr("width", d => Math.max(0.6, x(d[1]) - x(d[0])))
    .attr("y", y(0.44)).attr("height", y(0.0739) - y(0.44))
    .attr("fill", "#008000").attr("fill-opacity", 0.58);

  const fitLine = d3.line().x(d => x(d[0])).y(d => y(d[1])).curve(d3.curveMonotoneX);
  g.append("g").selectAll("path").data(fitSegments).join("path")
    .attr("d", fitLine).attr("fill","none").attr("stroke","#7a7a7a").attr("stroke-width",1.7)
    .attr("stroke-dasharray","6,3");

  const allObs = [].concat(obs2015, obs2015Late, obsWet2016, obsDry2016, obsWet2017, obsDry2017,
                           obsWet2018, obsDry2018, obsWet2019, obsDry2019, obsLate2019);
  g.append("g").selectAll("circle").data(allObs).join("circle")
    .attr("cx", d => x(d[0])).attr("cy", d => y(d[1])).attr("r", 1.6).attr("fill", RED);

  const xAxis = d3.axisBottom(x).tickValues(yearTicks).tickFormat(d3.format("d")).tickSize(6).tickSizeOuter(0).tickPadding(5);
  const yAxis = d3.axisLeft(y).tickValues(thetaTicks).tickFormat(d3.format(".2f")).tickSize(6).tickSizeOuter(0).tickPadding(6);
  const gx = g.append("g").attr("transform","translate(0,708)").call(xAxis);
  const gy = g.append("g").attr("transform","translate(839,0)").call(yAxis);
  [gx, gy].forEach(a => {
    a.select(".domain").remove();
    a.selectAll("line").attr("stroke","#222").attr("stroke-width",1.4);
    a.selectAll("text").attr("font-family",SANS).attr("font-size",27).attr("fill","#000");
  });
  g.append("rect").attr("x",839).attr("y",33).attr("width",2063-839).attr("height",708-33)
    .attr("fill","none").attr("stroke","#333").attr("stroke-width",1.5);

  g.append("text").attr("x",1451).attr("y",25).attr("text-anchor","middle")
    .attr("font-family",SANS).attr("font-size",28).text("Water-limited and energy-limited regimes at Tonzi Ranch station");
  g.append("text").attr("x",1451).attr("y",771).attr("text-anchor","middle")
    .attr("font-family",SANS).attr("font-size",28).text("Time");
  const yl = g.append("text").attr("transform","translate(752,368) rotate(-90)").attr("text-anchor","middle")
    .attr("font-family",SANS).attr("font-size",29);
  yl.append("tspan").attr("font-style","italic").text("θ");
  yl.append("tspan").text("(");
  yl.append("tspan").attr("font-style","italic").text("m");
  yl.append("tspan").attr("font-size",20).attr("dy",-11).text("3");
  yl.append("tspan").attr("dy",11).text("/");
  yl.append("tspan").attr("font-style","italic").text("m");
  yl.append("tspan").attr("font-size",20).attr("dy",-11).text("3");
  yl.append("tspan").attr("dy",11).text(")");
  g.append("text").attr("x",722).attr("y",40).attr("font-family",SERIF).attr("font-size",34)
    .attr("font-weight","bold").text("(c)");
}
</script>
</body></html>
